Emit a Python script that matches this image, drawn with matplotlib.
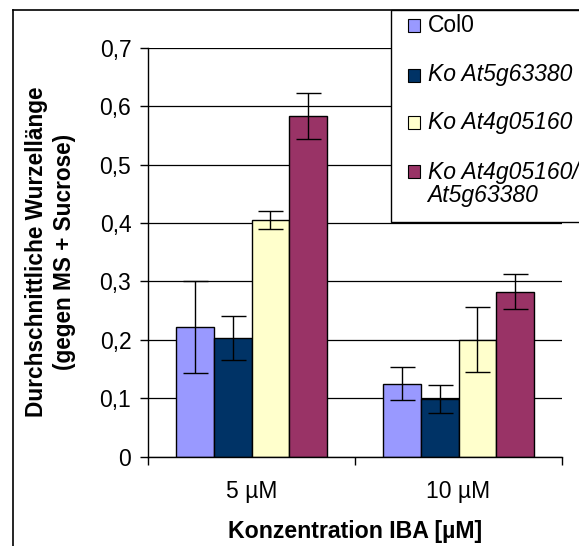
import numpy as np
import matplotlib.pyplot as plt
from matplotlib.patches import Rectangle
from matplotlib.lines import Line2D

plt.rcParams['font.family'] = ['Liberation Sans', 'DejaVu Sans']

# data
categories = ['5 µM', '10 µM']
series = ['Col0', 'Ko At5g63380', 'Ko At4g05160', 'Ko At4g05160/\nAt5g63380']
italic = [False, True, True, True]
colors = ['#9999FF', '#003366', '#FFFFCC', '#993366']
col0 = [0.222, 0.125]
ko_5g = [0.203, 0.098]
ko_4g = [0.405, 0.200]
ko_double = [0.583, 0.282]
err_col0 = [0.079, 0.029]
err_5g = [0.037, 0.024]
err_4g = [0.015, 0.056]
err_double = [0.039, 0.030]

values = [col0, ko_5g, ko_4g, ko_double]
errors = [err_col0, err_5g, err_4g, err_double]

W, H = 579, 546
fig = plt.figure(figsize=(W / 100, H / 100), dpi=100)


def fx(x):
    return x / W


def fy(y):
    return 1 - y / H


# plot area in pixels: x 148..562, y 47.7..456.5
ax = fig.add_axes([fx(148), fy(456.5), fx(562) - fx(148), fy(47.7) - fy(456.5)])

x = np.arange(len(categories))
bw = 1 / 5.5
for i, (vals, errs, c) in enumerate(zip(values, errors, colors)):
    pos = x + (i - 1.5) * bw
    ax.bar(pos, vals, bw, color=c, edgecolor='black', linewidth=1.0, zorder=2)
    ax.errorbar(pos, vals, yerr=errs, fmt='none', ecolor='black',
                elinewidth=1.0, capsize=9, capthick=1.0, zorder=3)

ax.set_xlim(-0.5, len(categories) - 0.5)
ax.set_ylim(0, 0.7)
yt = np.arange(0, 0.71, 0.1)
ax.set_yticks(yt)
ax.set_yticklabels(['0'] + [f'{v:.1f}'.replace('.', ',') for v in yt[1:]])
ax.set_xticks(x)
ax.set_xticklabels(categories)
ax.set_xticks(np.arange(-0.5, len(categories)), minor=True)
ax.tick_params(axis='x', which='major', length=0, pad=17, labelsize=16.5)
ax.tick_params(axis='x', which='minor', length=6, width=1, direction='out')
ax.tick_params(axis='y', length=6, width=1, direction='out', pad=6, labelsize=16.5)
ax.yaxis.grid(True, color='black', linewidth=0.9, zorder=0)
ax.set_axisbelow(True)
for s in ['top', 'right']:
    ax.spines[s].set_visible(False)
for s in ['left', 'bottom']:
    ax.spines[s].set_linewidth(1.0)

ax.set_xlabel('Konzentration IBA [µM]', fontsize=16.7, fontweight='bold', labelpad=12)
ax.set_ylabel('Durchschnittliche Wurzellänge\n(gegen MS + Sucrose)', fontsize=16.3,
              fontweight='bold', labelpad=17, linespacing=1.3)

# outer chart frame (cropped on the right and bottom)
fig.add_artist(Line2D([fx(12.5), fx(12.5)], [fy(10), 0], color='black', lw=1.2))
fig.add_artist(Line2D([fx(12.5), 1], [fy(10), fy(10)], color='black', lw=1.2))

# legend box
fig.add_artist(Rectangle((fx(391), fy(222)), 1, fy(10) - fy(222),
                         facecolor='white', edgecolor='black', lw=1.0, zorder=5))
leg_y = [25, 75, 122, 184]
for lab, it, c, ly in zip(series, italic, colors, leg_y):
    my = ly if '\n' not in lab else 171
    fig.add_artist(Rectangle((fx(408), fy(my + 7)), fx(12.5), fy(0) - fy(12.5),
                             facecolor=c, edgecolor='black', lw=0.8, zorder=6))
    fig.text(fx(427.5), fy(ly), lab, fontsize=16.5, style='italic' if it else 'normal',
             va='center', ha='left', zorder=7, linespacing=1.0)

fig.savefig('out.png', dpi=100)
